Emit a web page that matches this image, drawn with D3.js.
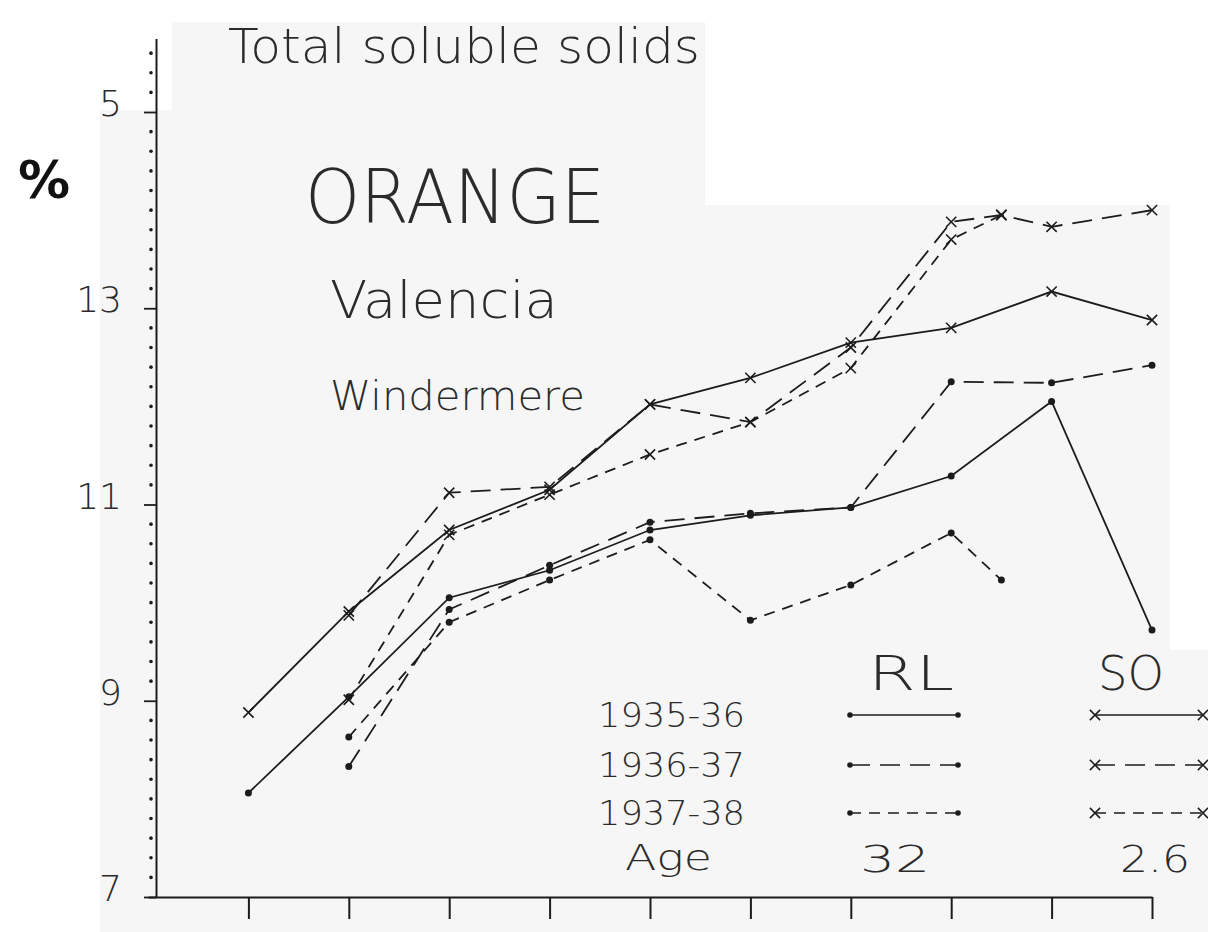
<!DOCTYPE html>
<html>
<head>
<meta charset="utf-8">
<script src="https://cdn.jsdelivr.net/npm/d3@7"></script>
<style>
  html, body { margin: 0; padding: 0; background: #ffffff; }
  svg { display: block; }
  .hand { font-family: "DejaVu Sans", Lato, sans-serif; font-weight: 200; fill: #2b2b2b; }
</style>
</head>
<body>
<svg id="chart" width="1208" height="932"></svg>
<script>
// ---------- data ----------
const xPositions = [0, 1, 2, 3, 4, 5, 6, 7, 7.5, 8, 9];
const yTickValues = [15, 13, 11, 9, 7];
const yTickLabels = ["5", "13", "11", "9", "7"];
const years = ["1935-36", "1936-37", "1937-38"];
const groups = ["RL", "SO"];
const ages = ["32", "2.6"];

const RL_1935_36 = [8.06, 9.04, 10.05, 10.33, 10.74, 10.89, 10.97, 11.29, null, 12.05, 9.72];
const RL_1936_37 = [null, 8.33, 9.93, 10.38, 10.82, 10.91, 10.97, 12.25, null, 12.24, 12.42];
const RL_1937_38 = [null, 8.63, 9.80, 10.23, 10.64, 9.82, 10.18, 10.71, 10.23, null, null];
const SO_1935_36 = [8.88, 9.91, 10.74, 11.15, 12.02, 12.29, 12.65, 12.80, null, 13.17, 12.88];
const SO_1936_37 = [null, 9.87, 11.12, 11.18, 12.02, 11.84, 12.60, 13.88, 13.95, 13.83, 14.00];
const SO_1937_38 = [null, 9.01, 10.69, 11.10, 11.51, 11.84, 12.39, 13.70, 13.95, null, null];

const seriesList = [
  { group: "RL", year: "1935-36", values: RL_1935_36 },
  { group: "RL", year: "1936-37", values: RL_1936_37 },
  { group: "RL", year: "1937-38", values: RL_1937_38 },
  { group: "SO", year: "1935-36", values: SO_1935_36 },
  { group: "SO", year: "1936-37", values: SO_1936_37 },
  { group: "SO", year: "1937-38", values: SO_1937_38 }
];

// ---------- styles ----------
const ink = "#1c1c1c";
const dashByYear = { "1935-36": null, "1936-37": "20,10", "1937-38": "11,8" };

// ---------- scales ----------
const svg = d3.select("#chart");
const x = d3.scaleLinear().domain([-1, 9]).range([148, 1152]);
const y = d3.scaleLinear().domain([7, 15.75]).range([897, 897 - 8.75 * 98.125]);
const axisX = 156;

// scanned paper background
svg.append("path")
  .attr("d", "M172,22 L705,22 L705,205 L1170,205 L1170,650 L1208,650 L1208,932 L100,932 L100,110 L172,110 Z")
  .attr("fill", "#f6f6f6");

// ---------- axes ----------
const yAxis = d3.axisLeft(y)
  .tickValues(yTickValues)
  .tickFormat((d, i) => yTickLabels[i])
  .tickSize(12)
  .tickSizeOuter(0)
  .tickPadding(22);
const gy = svg.append("g").attr("transform", `translate(${axisX},0)`).call(yAxis);
gy.select(".domain").attr("stroke", ink).attr("stroke-width", 2);
gy.selectAll(".tick line").attr("stroke", ink).attr("stroke-width", 1.8);
gy.selectAll(".tick text")
  .attr("class", "hand")
  .attr("font-size", 36)
  .attr("dy", "0.1em");

// minor dotted ticks along the y axis
const minor = d3.range(72, 158, 2).map(v => v / 10).filter(v => !yTickValues.includes(v));
svg.append("g").selectAll("circle").data(minor).join("circle")
  .attr("cx", axisX - 5)
  .attr("cy", d => y(d))
  .attr("r", 1.8)
  .attr("fill", ink);

const xAxis = d3.axisBottom(x)
  .tickValues(d3.range(0, 10))
  .tickFormat("")
  .tickSize(22)
  .tickSizeOuter(0);
const gx = svg.append("g").attr("transform", `translate(0,${y(7)})`).call(xAxis);
gx.select(".domain").attr("stroke", ink).attr("stroke-width", 2);
gx.selectAll(".tick line").attr("stroke", ink).attr("stroke-width", 2);

// ---------- lines ----------
const line = d3.line().x(d => x(d.x)).y(d => y(d.v));
const crossType = d3.symbolTimes || d3.symbolX || d3.symbolCross;
const crossSym = d3.symbol().type(crossType).size(70);
const gLines = svg.append("g");

seriesList.forEach(s => {
  const pts = xPositions.map((xv, i) => ({ x: xv, v: s.values[i] })).filter(d => d.v != null);
  gLines.append("path")
    .datum(pts)
    .attr("d", line)
    .attr("fill", "none")
    .attr("stroke", ink)
    .attr("stroke-width", 1.8)
    .attr("stroke-dasharray", dashByYear[s.year]);
  const mk = gLines.append("g");
  if (s.group === "RL") {
    mk.selectAll("circle").data(pts).join("circle")
      .attr("cx", d => x(d.x)).attr("cy", d => y(d.v)).attr("r", 3.5).attr("fill", ink);
  } else {
    mk.selectAll("path").data(pts).join("path")
      .attr("d", crossSym)
      .attr("transform", d => `translate(${x(d.x)},${y(d.v)})` + (crossType === d3.symbolCross ? " rotate(45)" : ""))
      .attr("fill", crossType === d3.symbolCross ? ink : "none")
      .attr("stroke", ink).attr("stroke-width", 1.6);
  }
});

// ---------- titles ----------
function fitText(tx, xPos, yPos, size, width) {
  return svg.append("text").attr("class", "hand").attr("x", xPos).attr("y", yPos)
    .attr("font-size", size).attr("textLength", width).attr("lengthAdjust", "spacingAndGlyphs").text(tx);
}
fitText("Total soluble solids", 228, 63, 48, 472);
fitText("ORANGE", 305, 223, 74, 300);
fitText("Valencia", 330, 318, 52, 228);
fitText("Windermere", 330, 410, 40, 255);
svg.append("text").attr("x", 18).attr("y", 198).attr("font-size", 52)
  .attr("font-family", "'DejaVu Sans', sans-serif").attr("font-weight", 700).attr("fill", "#111").text("%");

// ---------- legend ----------
const legendRowY = [715, 765, 813];
const groupX = { RL: 850, SO: 1095 };
const groupLabelX = { RL: 868, SO: 1098 };
groups.forEach(g => {
  fitText(g, groupLabelX[g], 690, 48, g === "RL" ? 86 : 66);
});
years.forEach((yr, i) => {
  fitText(yr, 598, legendRowY[i] + 12, 34, 147);
  groups.forEach(g => {
    const x0 = groupX[g], x1 = x0 + 108;
    svg.append("line").attr("x1", x0).attr("x2", x1).attr("y1", legendRowY[i]).attr("y2", legendRowY[i])
      .attr("stroke", ink).attr("stroke-width", 1.6).attr("stroke-dasharray", dashByYear[yr]);
    [x0, x1].forEach(px => {
      if (g === "RL") {
        svg.append("circle").attr("cx", px).attr("cy", legendRowY[i]).attr("r", 2.8).attr("fill", ink);
      } else {
        svg.append("path").attr("d", crossSym)
          .attr("transform", `translate(${px},${legendRowY[i]})` + (crossType === d3.symbolCross ? " rotate(45)" : ""))
          .attr("fill", crossType === d3.symbolCross ? ink : "none")
          .attr("stroke", ink).attr("stroke-width", 1.5);
      }
    });
  });
});
fitText("Age", 625, 870, 36, 87);
fitText(ages[0], 860, 872, 38, 70);
fitText(ages[1], 1120, 872, 38, 70);
</script>
</body>
</html>
